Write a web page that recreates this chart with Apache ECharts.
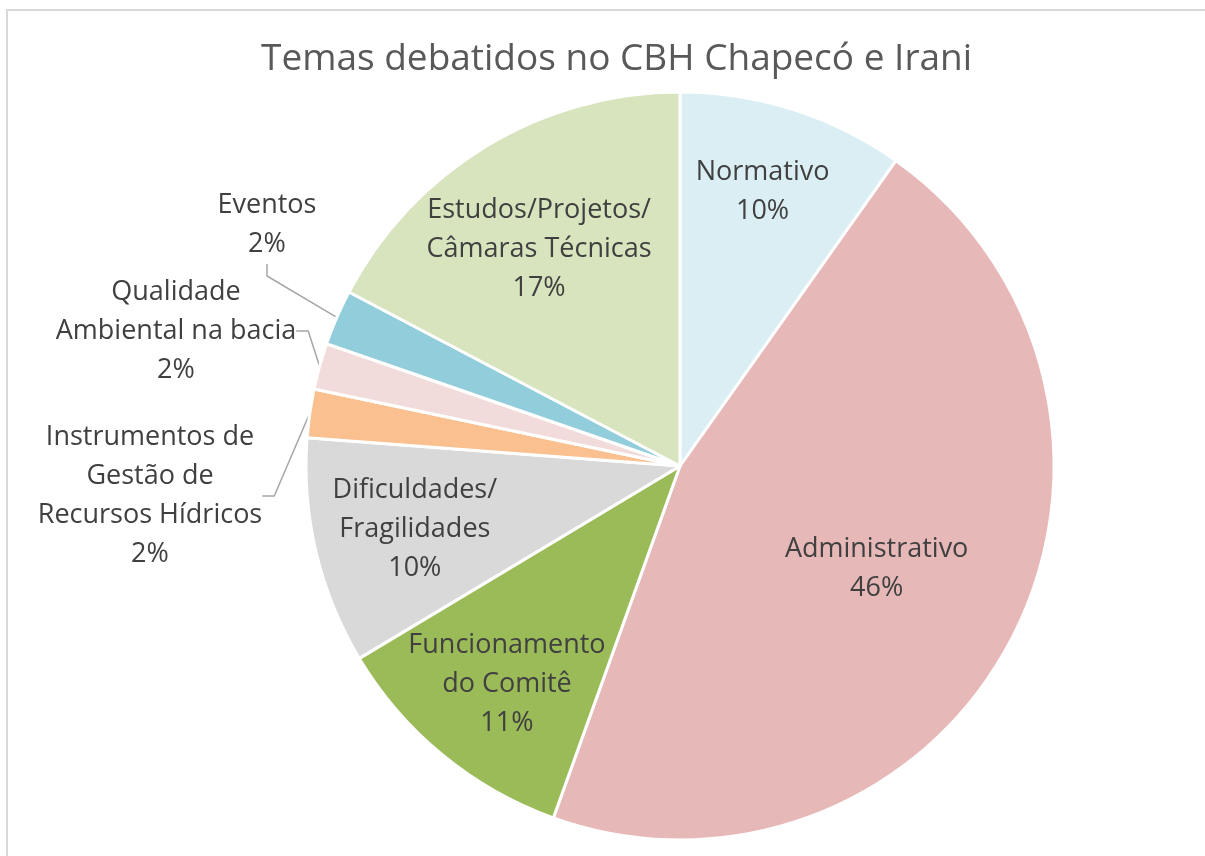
<!DOCTYPE html>
<html>
<head>
<meta charset="utf-8">
<script src="https://cdn.jsdelivr.net/npm/echarts@6/dist/echarts.min.js"></script>
<style>
  html, body { margin: 0; padding: 0; background: #fff; }
  #chart { width: 1205px; height: 856px; }
</style>
</head>
<body>
<div id="chart"></div>
<script>
// categories (clockwise from 12 o'clock), values in %
var temas = [
    'Normativo',
    'Administrativo',
    'Funcionamento\ndo Comitê',
    'Dificuldades/\nFragilidades',
    'Instrumentos de\nGestão de\nRecursos Hídricos',
    'Qualidade\nAmbiental na bacia',
    'Eventos',
    'Estudos/Projetos/\nCâmaras Técnicas'
];
var valores = [9.8, 45.7, 10.9, 9.8, 2.1, 2.0, 2.4, 17.3];
var cores = ['#DAEEF3', '#E6B8B7', '#9BBB59', '#D9D9D9', '#FAC090', '#F2DCDB', '#92CDDC', '#D7E4BD'];
var rotuloFora = [false, false, false, false, true, true, true, false];

// label nudges (px) for the inside labels, and spots for the outside ones
var ajusteDentro = [[0, -15], [-45, -23], [0, 8], [0, 1], [0, 0], [0, 0], [0, 0], [0, 17]];
var posFora = {4: [150, 496], 5: [176, 331], 6: [267, 225]};

var fonte = '"Open Sans", sans-serif';
var corTexto = '#404040';

function fmtLabel(p) {
    return p.name + '\n' + Math.round(p.percent) + '%';
}

var dadosPie = temas.map(function (t, i) {
    return {
        name: t,
        value: valores[i],
        itemStyle: {color: cores[i]},
        label: {show: rotuloFora[i]},
        labelLine: {show: rotuloFora[i]}
    };
});

var dadosRotulo = temas.map(function (t, i) {
    return {
        name: t,
        value: valores[i],
        label: {show: !rotuloFora[i]}
    };
});

var chart = echarts.init(document.getElementById('chart'));

var option = {
    backgroundColor: '#fff',
    animation: false,
    title: {
        text: 'Temas debatidos no CBH Chapecó e Irani',
        left: 256,
        top: 36,
        textStyle: {
            fontFamily: fonte,
            fontSize: 37,
            fontWeight: 'normal',
            color: '#595959'
        }
    },
    graphic: [{
        type: 'rect',
        shape: {x: 7, y: 10, width: 1230, height: 900},
        style: {fill: 'none', stroke: '#D9D9D9', lineWidth: 2},
        silent: true
    }],
    series: [
        {
            name: 'temas',
            type: 'pie',
            center: [680, 466],
            radius: 374,
            startAngle: 90,
            clockwise: true,
            avoidLabelOverlap: false,
            itemStyle: {borderColor: '#fff', borderWidth: 3},
            label: {
                position: 'outside',
                formatter: fmtLabel,
                fontFamily: fonte,
                fontSize: 27,
                lineHeight: 39,
                color: corTexto
            },
            labelLine: {
                length: 20,
                length2: 12,
                lineStyle: {color: '#A6A6A6', width: 1.5}
            },
            labelLayout: function (p) {
                var pos = posFora[p.dataIndex];
                if (!pos) return {};
                return {x: pos[0], y: pos[1], align: 'center', verticalAlign: 'middle'};
            },
            data: dadosPie
        },
        {
            name: 'rotulos',
            type: 'pie',
            center: [680, 466],
            radius: [165, 374],
            startAngle: 90,
            clockwise: true,
            silent: true,
            itemStyle: {color: 'rgba(0,0,0,0)'},
            label: {
                position: 'inside',
                formatter: fmtLabel,
                fontFamily: fonte,
                fontSize: 27,
                lineHeight: 39,
                color: corTexto
            },
            labelLine: {show: false},
            labelLayout: function (p) {
                var d = ajusteDentro[p.dataIndex];
                return {dx: d[0], dy: d[1]};
            },
            data: dadosRotulo
        }
    ]
};

chart.setOption(option);
</script>
</body>
</html>
